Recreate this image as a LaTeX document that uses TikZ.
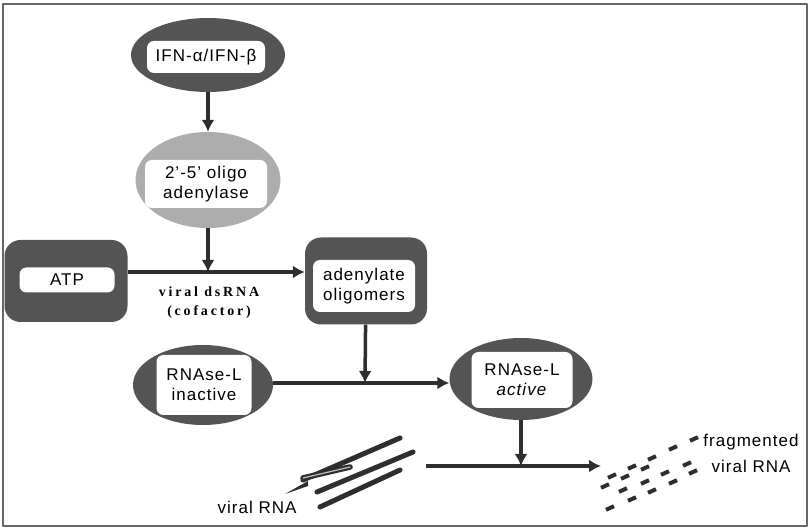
\documentclass[tikz,border=0pt]{standalone}
\usepackage{fontspec}
\setmainfont{Liberation Sans}[LetterSpace=6]
\newfontfamily\capfont{Liberation Serif}[LetterSpace=20]
\usepackage{tikz}
\usetikzlibrary{arrows.meta}
\usetikzlibrary{shapes.geometric}
\usetikzlibrary{calc}
\definecolor{darkfill}{rgb}{0.33,0.33,0.33}
\definecolor{lightfill}{rgb}{0.68,0.68,0.68}
\definecolor{linecol}{rgb}{0.18,0.18,0.18}
\tikzset{darkoval/.style={ellipse, fill=darkfill, inner sep=0pt},
  lightoval/.style={ellipse, fill=lightfill, inner sep=0pt},
  darkbox/.style={rectangle, rounded corners=16bp, fill=darkfill, inner sep=0pt},
  textbox/.style={rectangle, rounded corners=7bp, fill=white, inner sep=0pt, align=center, font=\fontsize{17bp}{20bp}\selectfont},
  flow/.style={->, line width=3.5bp, draw=linecol},
  strand/.style={line width=5bp, line cap=round, draw=linecol},
  frag/.style={line width=4bp, draw=linecol}}

\begin{document}
\begin{tikzpicture}[>={Latex[length=12bp,width=13bp]}, line join=bevel]
\useasboundingbox (0bp,0bp) rectangle (810bp,529bp);
\draw [line width=2.5bp, draw=gray!80!black] (3bp,3bp) rectangle (807bp,525bp);
%%
\node (ifn) at (208.0bp,474.0bp) [darkoval, minimum width=154bp, minimum height=74bp] {};
  \node (ifn_t) at (206.0bp,472.0bp) [textbox, minimum width=118bp, minimum height=32bp] {IFN-α/IFN-β};
  \node (oas) at (208.0bp,349.0bp) [lightoval, minimum width=145bp, minimum height=96bp] {};
  \node (oas_t) at (206.0bp,345.0bp) [textbox, minimum width=122bp, minimum height=48bp] {2'-5' oligo\\adenylase};
  \node (atp) at (66.0bp,248.0bp) [darkbox, minimum width=123bp, minimum height=82bp] {};
  \node (atp_t) at (67.0bp,249.0bp) [textbox, minimum width=95bp, minimum height=25bp] {ATP};
  \node (oligomers) at (366.0bp,248.0bp) [darkbox, minimum width=122bp, minimum height=87bp] {};
  \node (oligomers_t) at (364.0bp,243.0bp) [textbox, minimum width=102bp, minimum height=52bp] {adenylate\\oligomers};
  \node (rnl_in) at (203.0bp,144.0bp) [darkoval, minimum width=140bp, minimum height=80bp] {};
  \node (rnl_in_t) at (204.0bp,144.0bp) [textbox, minimum width=95bp, minimum height=60bp] {RNAse-L\\inactive};
  \node (rnl_act) at (521.0bp,150.0bp) [darkoval, minimum width=143bp, minimum height=82bp] {};
  \node (rnl_act_t) at (522.0bp,149.0bp) [textbox, minimum width=101bp, minimum height=56bp] {RNAse-L\\\textit{active}};
  \node (cofactor) at (209.0bp,226.0bp) [align=center, font=\capfont\bfseries\fontsize{14bp}{19bp}\selectfont] {viral dsRNA\\(cofactor)};
  \node (rna) at (257.0bp,22.0bp) [font=\fontsize{17bp}{20bp}\selectfont] {viral RNA};
  \node (frag_t) at (751.0bp,76.0bp) [align=center, font=\fontsize{17bp}{26bp}\selectfont] {fragmented\\viral RNA};
  \coordinate (j_1) at (208.0bp,257.0bp);
  \coordinate (j_2) at (365.0bp,146.0bp);
  \coordinate (j_3) at (521.0bp,63.0bp);
  \coordinate (rna_end) at (426.0bp,63.0bp);
  \coordinate (frag_start) at (601.0bp,63.0bp);
  \draw [flow] (ifn) -- (oas);
  \draw [flow] (oas) -- (j_1);
  \draw [flow] (atp.east |- j_1) -- (oligomers.west |- j_1);
  \draw [flow] (oligomers) -- (j_2);
  \draw [flow] (rnl_in.east |- j_2) -- (rnl_act.west |- j_2);
  \draw [flow] (rnl_act) -- (j_3);
  \draw [flow] (rna_end) -- (frag_start);
%
  \fill [linecol] (285bp,35bp) -- (308bp,48bp) -- (308bp,43bp) -- cycle;
  \draw [strand] (303bp,49bp) -- (400bp,91bp);
  \draw [strand, double=gray!50, double distance=1.2bp, line width=2.2bp] (303bp,51bp) -- (350bp,62bp);
  \draw [strand] (317bp,37bp) -- (413bp,77bp);
  \draw [strand] (320bp,22bp) -- (400bp,59bp);
  \foreach \x/\y in {694/90, 673/81, 652/71, 632/62, 612/53, 605/43, 625/52, 645/61, 687/65,
    693/57, 665/56, 673/47, 645/47, 623/39, 652/38, 632/30, 610/21}
    \draw [frag] ($(\x bp,\y bp)+(-4bp,-1.8bp)$) -- ++(8bp,3.6bp);
%
\end{tikzpicture}
\end{document}
